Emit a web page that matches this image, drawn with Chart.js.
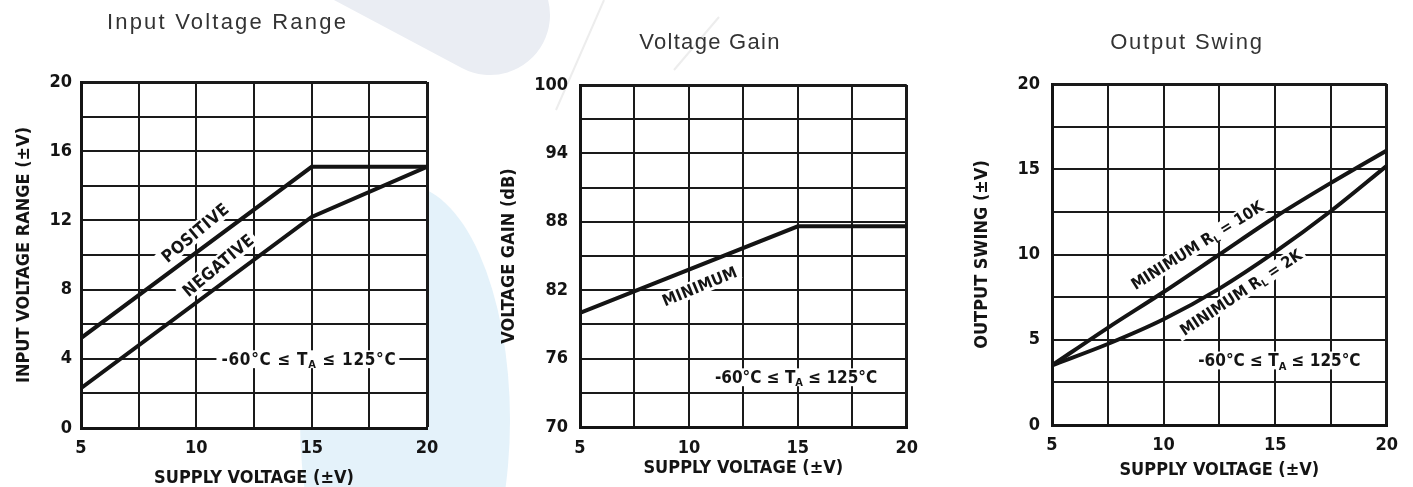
<!DOCTYPE html>
<html>
<head>
<meta charset="utf-8">
<script src="https://cdn.jsdelivr.net/npm/chart.js@4.4.1/dist/chart.umd.min.js"></script>
<style>
  html, body { margin: 0; padding: 0; background: #fff; }
  #stage { position: relative; width: 1413px; height: 487px; overflow: hidden; background: #fff; }
  #stage svg.deco { position: absolute; left: 0; top: 0; }
  .panel { position: absolute; top: 0; height: 487px; }
</style>
</head>
<body>
<div id="stage">
  <!-- soft background decoration -->
  <svg class="deco" width="1413" height="487">
    <ellipse cx="405" cy="420" rx="105" ry="235" fill="#e4f2fa"/>
    <g transform="rotate(28 490 15)"><rect x="130" y="-45" width="420" height="120" rx="60" fill="#eaedf3"/></g>
    <path d="M556 110 L604 0 M674 70 L719 17" stroke="#ededed" stroke-width="2" fill="none"/>
  </svg>
  <div class="panel" style="left:0px;width:455px"><canvas id="inputRange"></canvas></div>
  <div class="panel" style="left:490px;width:440px"><canvas id="voltageGain"></canvas></div>
  <div class="panel" style="left:965px;width:444px"><canvas id="outputSwing"></canvas></div>
</div>
<script>
// ---- data ----
const supplyVoltage = [5, 15, 20];
const inputRangePositive = [5.2, 15.1, 15.1];
const inputRangeNegative = [2.3, 12.2, 15.1];

const gainSupply = [5, 15, 20];
const voltageGainMinimum = [80.0, 87.6, 87.6];

const swingSupply = [5, 7.5, 10, 12.5, 15, 17.5, 20];
const swingMinRL10k = [3.5, 5.7, 7.8, 10.0, 12.2, 14.2, 16.1];
const swingMinRL2k = [3.5, 4.75, 6.2, 8.0, 10.15, 12.55, 15.2];

const supplyTickLabels = [5, 10, 15, 20];
const inputRangeTickLabels = [0, 4, 8, 12, 16, 20];
const gainTickLabels = [70, 76, 82, 88, 94, 100];
const swingTickLabels = [0, 5, 10, 15, 20];

// ---- styling ----
const NARROW = "'Liberation Sans Narrow', 'DejaVu Sans Condensed', 'Arial Narrow', sans-serif";
const INK = '#141414';
Chart.defaults.font.family = NARROW;
Chart.defaults.font.weight = 'bold';
Chart.defaults.color = INK;
Chart.defaults.animation = false;

const toPoints = (xs, ys) => xs.map((x, i) => ({ x, y: ys[i] }));

// white plot field
const plotField = {
  id: 'plotField',
  beforeDraw(chart) {
    const { ctx, chartArea: a } = chart;
    ctx.save();
    ctx.fillStyle = '#fff';
    ctx.fillRect(a.left, a.top, a.right - a.left, a.bottom - a.top);
    ctx.restore();
  }
};

// heading above each panel
const caption = {
  id: 'caption',
  afterDraw(chart, args, o) {
    const ctx = chart.ctx;
    ctx.save();
    ctx.font = `${o.size}px 'Liberation Sans', Arial, sans-serif`;
    ctx.letterSpacing = o.spacing + 'px';
    ctx.fillStyle = o.color;
    ctx.textAlign = 'center';
    ctx.textBaseline = 'middle';
    ctx.fillText(o.text, chart.width / 2, o.y);
    ctx.restore();
  }
};

// in-plot lettering (curve names, temperature range) with knocked-out background
const notes = {
  id: 'notes',
  beforeDatasetsDraw(chart, args, o) {
    const { ctx, scales: { x, y } } = chart;
    for (const n of (o.items || [])) {
      const px = x.getPixelForValue(n.x), py = y.getPixelForValue(n.y);
      ctx.save();
      ctx.translate(px, py);
      ctx.rotate(-n.angle * Math.PI / 180);
      ctx.letterSpacing = n.spacing + 'px';
      const fontOf = p => `bold ${p.sub ? Math.round(n.size * 0.62) : n.size}px ${NARROW}`;
      let total = 0;
      const widths = n.parts.map(p => { ctx.font = fontOf(p); const w = ctx.measureText(p.t).width; total += w; return w; });
      if (n.box) {
        ctx.fillStyle = '#fff';
        ctx.fillRect(-total / 2 - 5, -n.size * 0.5, total + 8, n.size * 1.05);
      }
      ctx.fillStyle = INK;
      ctx.textAlign = 'left';
      ctx.textBaseline = 'alphabetic';
      const base = n.size * 0.36;
      let cx = -total / 2;
      n.parts.forEach((p, i) => {
        ctx.font = fontOf(p);
        ctx.fillText(p.t, cx, p.sub ? base + n.size * 0.2 : base);
        cx += widths[i];
      });
      ctx.restore();
    }
  }
};

const tempRange = [{ t: '-60°C ≤ T' }, { t: 'A', sub: true }, { t: ' ≤ 125°C' }];

function makeChart(id, c) {
  const gridWidth = max => ctx => (ctx.tick && ctx.tick.value === max) ? 3 : 2;
  return new Chart(document.getElementById(id), {
    type: 'line',
    data: {
      datasets: c.series.map(s => ({
        data: s,
        borderColor: INK,
        borderWidth: 4,
        pointRadius: 0,
        fill: false,
        tension: 0,
        cubicInterpolationMode: c.smooth ? 'monotone' : 'default'
      }))
    },
    options: {
      responsive: true,
      maintainAspectRatio: false,
      layout: { padding: c.padding },
      plugins: {
        legend: { display: false },
        tooltip: { enabled: false },
        title: { display: false },
        caption: { text: c.title, y: c.titleY, size: 22, spacing: c.titleSpacing, color: '#333' },
        notes: { items: c.notes }
      },
      scales: {
        x: {
          type: 'linear', min: 5, max: 20,
          afterFit: s => { s.height = c.xHeight; },
          border: { display: true, color: INK, width: 3 },
          grid: { color: '#1a1a1a', lineWidth: gridWidth(20), drawTicks: false },
          ticks: {
            stepSize: 2.5, autoSkip: false, maxRotation: 0, padding: c.xTickPad,
            font: { size: 18, lineHeight: 1 },
            callback: v => supplyTickLabels.includes(v) ? String(v) : ''
          },
          title: {
            display: true, text: 'SUPPLY VOLTAGE (±V)',
            font: { size: 18, lineHeight: 1 }, padding: { top: 0, bottom: 0 }
          }
        },
        y: {
          type: 'linear', min: c.yMin, max: c.yMax,
          afterFit: s => { s.width = c.yWidth; },
          border: { display: true, color: INK, width: 3 },
          grid: { color: '#1a1a1a', lineWidth: gridWidth(c.yMax), drawTicks: false },
          ticks: {
            stepSize: c.yStep, autoSkip: false, padding: c.yTickPad,
            font: { size: 18, lineHeight: 1 },
            callback: v => c.yLabels.includes(v) ? String(v) : ''
          },
          title: {
            display: true, text: c.yTitle,
            font: { size: 18, lineHeight: 1 }, padding: { top: c.yTitlePad, bottom: 0 }
          }
        }
      }
    },
    plugins: [plotField, caption, notes]
  });
}

makeChart('inputRange', {
  title: 'Input Voltage Range', titleY: 23, titleSpacing: 2.2,
  series: [toPoints(supplyVoltage, inputRangePositive), toPoints(supplyVoltage, inputRangeNegative)],
  yMin: 0, yMax: 20, yStep: 2, yLabels: inputRangeTickLabels,
  yTitle: 'INPUT VOLTAGE RANGE (±V)',
  padding: { top: 82, right: 28, bottom: 0, left: 0 },
  yWidth: 81, xHeight: 59, yTickPad: 9, xTickPad: 11, yTitlePad: 15,
  notes: [
    { x: 9.94, y: 11.3, angle: 40, size: 17, spacing: 0.3, box: true, parts: [{ t: 'POSITIVE' }] },
    { x: 10.94, y: 9.42, angle: 40, size: 17, spacing: 0.3, box: true, parts: [{ t: 'NEGATIVE' }] },
    { x: 14.88, y: 4.0, angle: 0, size: 17, spacing: 0.7, box: true, parts: tempRange }
  ]
});

makeChart('voltageGain', {
  title: 'Voltage Gain', titleY: 43, titleSpacing: 1.3,
  series: [toPoints(gainSupply, voltageGainMinimum)],
  yMin: 70, yMax: 100, yStep: 3, yLabels: gainTickLabels,
  yTitle: 'VOLTAGE GAIN (dB)',
  padding: { top: 85, right: 22, bottom: 10, left: 0 },
  yWidth: 90, xHeight: 50, yTickPad: 12, xTickPad: 12, yTitlePad: 10,
  notes: [
    { x: 10.49, y: 82.37, angle: 22.5, size: 16, spacing: 0.3, box: true, parts: [{ t: 'MINIMUM' }] },
    { x: 14.92, y: 74.4, angle: 0, size: 17, spacing: 0, box: true, parts: tempRange }
  ]
});

makeChart('outputSwing', {
  title: 'Output Swing', titleY: 43, titleSpacing: 1.8,
  series: [toPoints(swingSupply, swingMinRL10k), toPoints(swingSupply, swingMinRL2k)],
  smooth: true,
  yMin: 0, yMax: 20, yStep: 2.5, yLabels: swingTickLabels,
  yTitle: 'OUTPUT SWING (±V)',
  padding: { top: 84, right: 20, bottom: 8, left: 0 },
  yWidth: 87, xHeight: 54, yTickPad: 12, xTickPad: 11, yTitlePad: 8,
  notes: [
    { x: 11.5, y: 10.56, angle: 32, size: 16, spacing: 0, box: true,
      parts: [{ t: 'MINIMUM R' }, { t: 'L', sub: true }, { t: ' = 10K' }] },
    { x: 13.46, y: 7.8, angle: 33.5, size: 16, spacing: 0, box: true,
      parts: [{ t: 'MINIMUM R' }, { t: 'L', sub: true }, { t: ' = 2K' }] },
    { x: 15.19, y: 3.81, angle: 0, size: 17, spacing: 0, box: true, parts: tempRange }
  ]
});
</script>
</body>
</html>
